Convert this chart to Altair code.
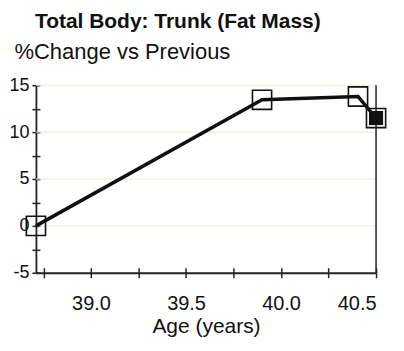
import altair as alt
import pandas as pd

# ---- data ----
age = [38.71, 39.90, 40.405, 40.50]
pct_change = [0.0, 13.45, 13.8, 11.5]
current = ["no", "no", "no", "yes"]

x_ticks = [38.75, 39.0, 39.25, 39.5, 39.75, 40.0, 40.25, 40.5]
y_ticks = [-5, -2.5, 0, 2.5, 5, 7.5, 10, 12.5, 15]
grid_values = [0, 5, 10, 15]
x_domain = [38.71, 40.5]
y_domain = [-5, 15]
right_edge = [40.5]

df = pd.DataFrame({"age": age, "pct": pct_change, "current": current})
grid_df = pd.DataFrame({"g": grid_values})
edge_df = pd.DataFrame({"e": right_edge})

FONT = "Liberation Sans"
W, H = 341, 188

xs = alt.Scale(domain=x_domain, nice=False, zero=False)
ys = alt.Scale(domain=y_domain, nice=False, zero=False)

grid = alt.Chart(grid_df).mark_rule(color="#ebeadb", strokeWidth=1).encode(
    y=alt.Y("g:Q", scale=ys,
            axis=alt.Axis(orient="right", offset=-W, values=y_ticks, labels=False,
                          domain=False, ticks=True, tickSize=4, tickWidth=1.5,
                          tickColor="#222", grid=False, title=None))
)

edge = alt.Chart(edge_df).mark_rule(color="#222", strokeWidth=1.5).encode(
    x=alt.X("e:Q", scale=xs,
            axis=alt.Axis(orient="top", offset=-H, values=x_ticks, labels=False,
                          domain=False, ticks=True, tickSize=5, tickWidth=1.5,
                          tickColor="#222", grid=False, title=None))
)

line = alt.Chart(df).mark_line(color="#111", strokeWidth=3.5).encode(
    x=alt.X("age:Q", scale=xs,
            axis=alt.Axis(orient="bottom", values=x_ticks,
                          labelExpr="(round(datum.value*4) % 2 == 0) ? format(datum.value, '.1f') : ''",
                          title="Age (years)", titleFont=FONT, titleFontSize=21,
                          titleFontWeight="normal", titleColor="#111", titlePadding=2,
                          labelFont=FONT, labelFontSize=20, labelColor="#111",
                          labelPadding=16, tickSize=5, tickWidth=1.5, tickColor="#222",
                          domainColor="#222", domainWidth=1.8, grid=False)),
    y=alt.Y("pct:Q", scale=ys,
            axis=alt.Axis(orient="left", values=y_ticks,
                          labelExpr="(datum.value % 5 == 0) ? toString(datum.value) : ''",
                          title="%Change vs Previous", titleAngle=0, titleAlign="left",
                          titleBaseline="alphabetic", titleX=-22, titleY=-27,
                          titleFont=FONT, titleFontSize=22, titleFontWeight="normal",
                          titleColor="#111",
                          labelFont=FONT, labelFontSize=18, labelColor="#111",
                          labelPadding=3, tickSize=4, tickWidth=1.5, tickColor="#222",
                          domainColor="#222", domainWidth=1.8, grid=False)),
)

pts_open = alt.Chart(df).mark_point(shape="square", size=370, strokeWidth=1.6,
                                     color="#111", filled=False, opacity=1).encode(
    x=alt.X("age:Q", scale=xs, axis=None),
    y=alt.Y("pct:Q", scale=ys, axis=None),
)

pts_filled = alt.Chart(df).transform_filter(alt.datum.current == "yes").mark_point(
    shape="square", size=200, color="#111", filled=True, opacity=1).encode(
    x=alt.X("age:Q", scale=xs, axis=None),
    y=alt.Y("pct:Q", scale=ys, axis=None),
)

chart = alt.layer(grid, edge, line, pts_open, pts_filled).resolve_axis(
    x="independent", y="independent"
).properties(
    width=W, height=H,
    autosize="none",
    padding={"left": 28, "top": 77, "right": 20, "bottom": 72},
    background="white",
    title=alt.Title("Total Body: Trunk  (Fat Mass)", anchor="start", frame="group",
                    font=FONT, fontSize=21, fontWeight="bold", color="#111",
                    offset=8, dx=-1),
).configure_view(stroke=None)

chart.save("out.html", embed_options={"renderer": "svg", "actions": False})
